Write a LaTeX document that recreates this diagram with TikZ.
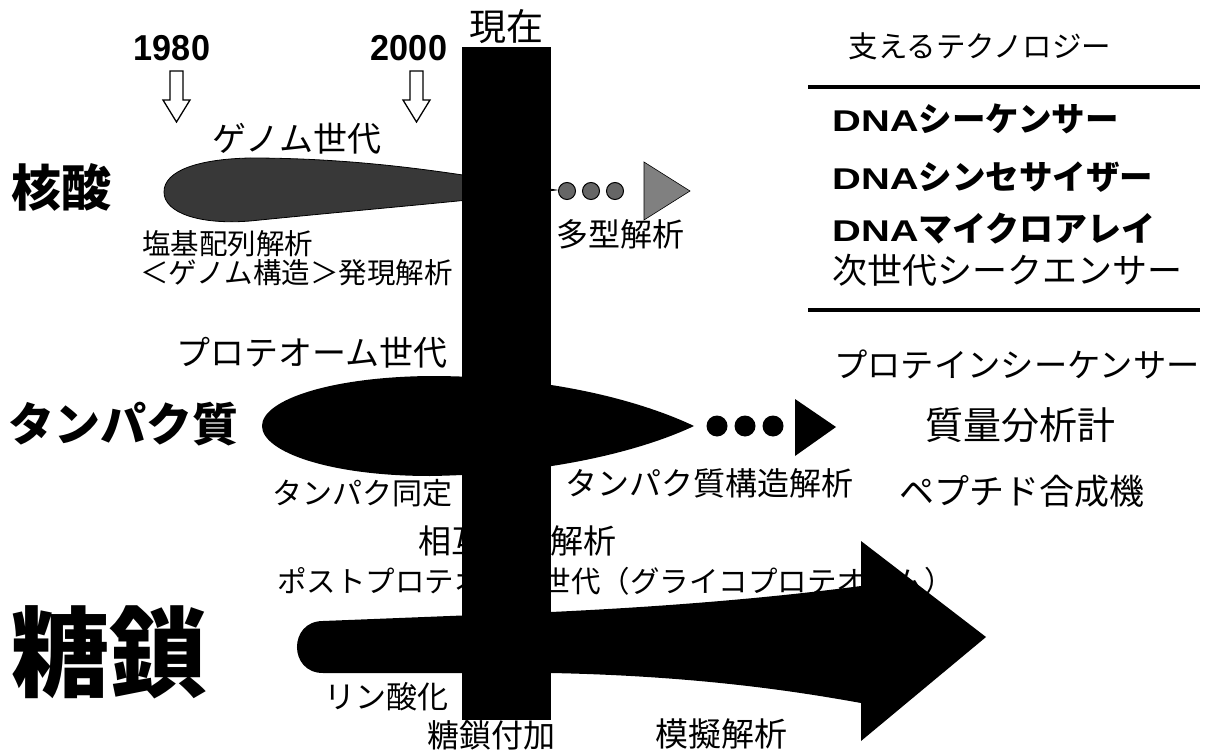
\documentclass[tikz,border=0pt]{standalone}
\usepackage{fontspec}
\newfontfamily\jp{Noto Sans CJK JP}
\newfontfamily\lat{Liberation Sans}
\newcommand\fsz[1]{\fontsize{#1pt}{#1pt}\selectfont}
\definecolor{speck}{gray}{0.22}
\definecolor{dotg}{gray}{0.40}
\definecolor{trig}{gray}{0.50}
\tikzset{
  t/.style={inner sep=0pt, font=\jp},
  tb/.style={inner sep=0pt, font=\jp\bfseries},
  yr/.style={inner sep=0pt, font=\lat\bfseries\fsz{36}, xscale=0.95},
  hollow/.style={draw=black, line width=1.3pt, fill=white, line join=miter},
  rule/.style={line width=4pt},
  blob/.style={fill=speck, draw=black, line width=0.8pt},
  ndot/.style={fill=dotg, draw=black, line width=1pt},
}
\newcommand\dna{{\lat\bfseries\fsz{30}\scalebox{1.33}[1]{DNA}}}
\begin{document}
\begin{tikzpicture}[x=1pt, y={(0pt,-1pt)}]
\useasboundingbox (0,0) rectangle (1210,754);
\fill[white] (0,0) rectangle (1210,754);

% ---- year labels and arrows
\node[yr] (y1980) at (172,48) {1980};
\node[yr] (y2000) at (409,48) {2000};
\node[t, font=\jp\fsz{37}] (now) at (506,27) {現在};
\draw[hollow] (170,71) -- (183,71) -- (183,100) -- (190,100) -- (176.5,122) -- (163,100) -- (170,100) -- cycle;
\draw[hollow] (410,71) -- (423,71) -- (423,100) -- (430,100) -- (416.5,122) -- (403,100) -- (410,100) -- cycle;

% ---- row labels
\node[tb, font=\jp\bfseries\fsz{50}] (kakusan) at (62,187) {核酸};
\node[tb, font=\jp\bfseries\fsz{46}] (tanpaku) at (124,424) {タンパク質};
\node[tb, font=\jp\bfseries\fsz{98}] (tousa) at (110,652) {糖鎖};

% ---- texts in the middle
\node[t, font=\jp\fsz{34}] (genome) at (297,139) {ゲノム世代};
\node[t, font=\jp\fsz{28.5}, anchor=west] (enki) at (142,244) {塩基配列解析};
\node[t, font=\jp\fsz{28.5}, anchor=west] (hatsugen) at (140,273) {＜ゲノム構造＞発現解析};
\node[t, font=\jp\fsz{32}] (takei) at (620,234) {多型解析};
\node[t, font=\jp\fsz{34}] (proteome) at (312,353) {プロテオーム世代};
\node[t, font=\jp\fsz{32}] (kouzou) at (709,483) {タンパク質構造解析};
\node[t, font=\jp\fsz{30}] (doutei) at (362,493) {タンパク同定};
\node[t, font=\jp\fsz{33}] (sougo) at (517,541) {相互作用解析};
\node[t, font=\jp\fsz{29.5}, anchor=west] (post) at (277,581) {ポストプロテオーム世代（グライコプロテオーム）};
\node[t, font=\jp\fsz{31}] (rinsan) at (386,697) {リン酸化};
\node[t, font=\jp\fsz{32}] (fuka) at (491,735) {糖鎖付加};
\node[t, font=\jp\fsz{33}] (mogi) at (721,734) {模擬解析};

% ---- technology column
\node[t, font=\jp\fsz{29.5}] (sasaeru) at (980,46) {支えるテクノロジー};
\coordinate (r1a) at (808,87);  \coordinate (r1b) at (1200,87);
\coordinate (r2a) at (808,310); \coordinate (r2b) at (1200,310);
\draw[rule] (r1a) -- (r1b);
\draw[rule] (r2a) -- (r2b);
\node[tb, font=\jp\bfseries\fsz{33.5}, anchor=west] (seq) at (832,119) {\dna シーケンサー};
\node[tb, font=\jp\bfseries\fsz{33.5}, anchor=west] (syn) at (832,177) {\dna シンセサイザー};
\node[tb, font=\jp\bfseries\fsz{34}, anchor=west] (arr) at (832,229) {\dna マイクロアレイ};
\node[t, font=\jp\fsz{35}, anchor=west] (ngs) at (832,270) {次世代シークエンサー};
\node[t, font=\jp\fsz{33.3}] (pseq) at (1017,364) {プロテインシーケンサー};
\node[t, font=\jp\fsz{38}] (ms) at (1020,425) {質量分析計};
\node[t, font=\jp\fsz{35}] (pep) at (1022,491) {ペプチド合成機};

% ---- nucleic acid teardrop
\path[blob] (164,192) .. controls (164,170) and (200,159) .. (250,158)
  .. controls (380,158) and (480,178) .. (556,190)
  .. controls (480,200) and (380,208) .. (250,221)
  .. controls (200,225) and (164,213) .. cycle;
\path[ndot] (567,191) circle[radius=8.5];
\path[ndot] (591,191) circle[radius=8.5];
\path[ndot] (615,191) circle[radius=8.5];
\path[fill=trig, draw=black, line width=0.6pt] (644,162) -- (690,191) -- (644,220) -- cycle;

% ---- protein leaf
\fill (262,426) .. controls (262,400) and (330,377) .. (430,376)
  .. controls (560,376) and (650,405) .. (694,426)
  .. controls (650,447) and (560,474) .. (430,476)
  .. controls (330,476) and (262,452) .. cycle;
\fill (717,426) circle[radius=10.5];
\fill (745,426) circle[radius=10.5];
\fill (773,426) circle[radius=10.5];
\fill (795,399) -- (836,427) -- (795,456) -- cycle;

% ---- present bar
\fill (462,47) rectangle (551,720);

% ---- glycan arrow
\fill (323,621) -- (551,612) .. controls (700,605) and (800,594) .. (861,586)
  -- (861,541) -- (986,637) -- (861,741) -- (861,703)
  .. controls (800,692) and (700,676) .. (551,673) -- (323,673)
  .. controls (288.3,673) and (288.3,621) .. (323,621) -- cycle;
\end{tikzpicture}
\end{document}
